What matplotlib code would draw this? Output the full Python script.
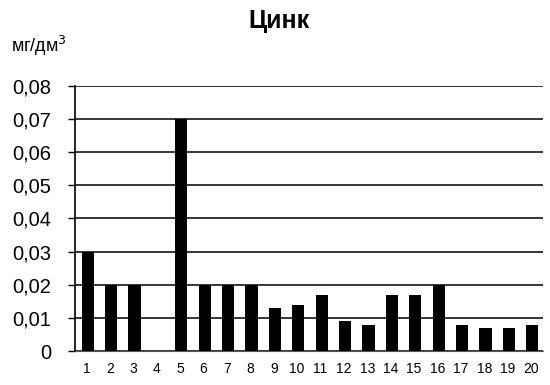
import numpy as np
import matplotlib.pyplot as plt

plt.rcParams['font.family'] = ['Liberation Sans', 'DejaVu Sans']

points = [str(i) for i in range(1, 21)]
zinc = [0.030, 0.020, 0.020, 0.0, 0.070, 0.020, 0.020, 0.020, 0.013, 0.014,
        0.017, 0.009, 0.008, 0.017, 0.017, 0.020, 0.008, 0.007, 0.007, 0.008]
yticks = [0, 0.01, 0.02, 0.03, 0.04, 0.05, 0.06, 0.07, 0.08]
ylabels = ['0', '0,01', '0,02', '0,03', '0,04', '0,05', '0,06', '0,07', '0,08']

fig = plt.figure(figsize=(5.5, 3.85), dpi=100)
ax = fig.add_axes([0.136, 0.088, 0.851, 0.689])

x = np.arange(len(points))
ax.bar(x + 0.05, zinc, width=0.52, color='black', zorder=3)

ax.set_xlim(-0.5, len(points) - 0.5)
ax.set_ylim(0, 0.08)
ax.set_yticks(yticks)
ax.set_yticklabels(ylabels, fontsize=14.5)
ax.set_xticks(x)
ax.set_xticklabels(points, fontsize=10)
ax.tick_params(axis='x', length=0, pad=8)
ax.tick_params(axis='y', length=5, width=1, pad=12)
ax.grid(axis='y', color='black', linewidth=1.1, zorder=0)

for s in ['top', 'right']:
    ax.spines[s].set_visible(False)
ax.spines['left'].set_linewidth(1.2)
ax.spines['bottom'].set_color('#555555')

fig.text(0.507, 0.945, 'Цинк', fontsize=18, fontweight='bold', ha='center', va='center')
fig.text(0.02, 0.88, 'мг/дм$^3$', fontsize=13, ha='left', va='center')

fig.savefig('out.png')
